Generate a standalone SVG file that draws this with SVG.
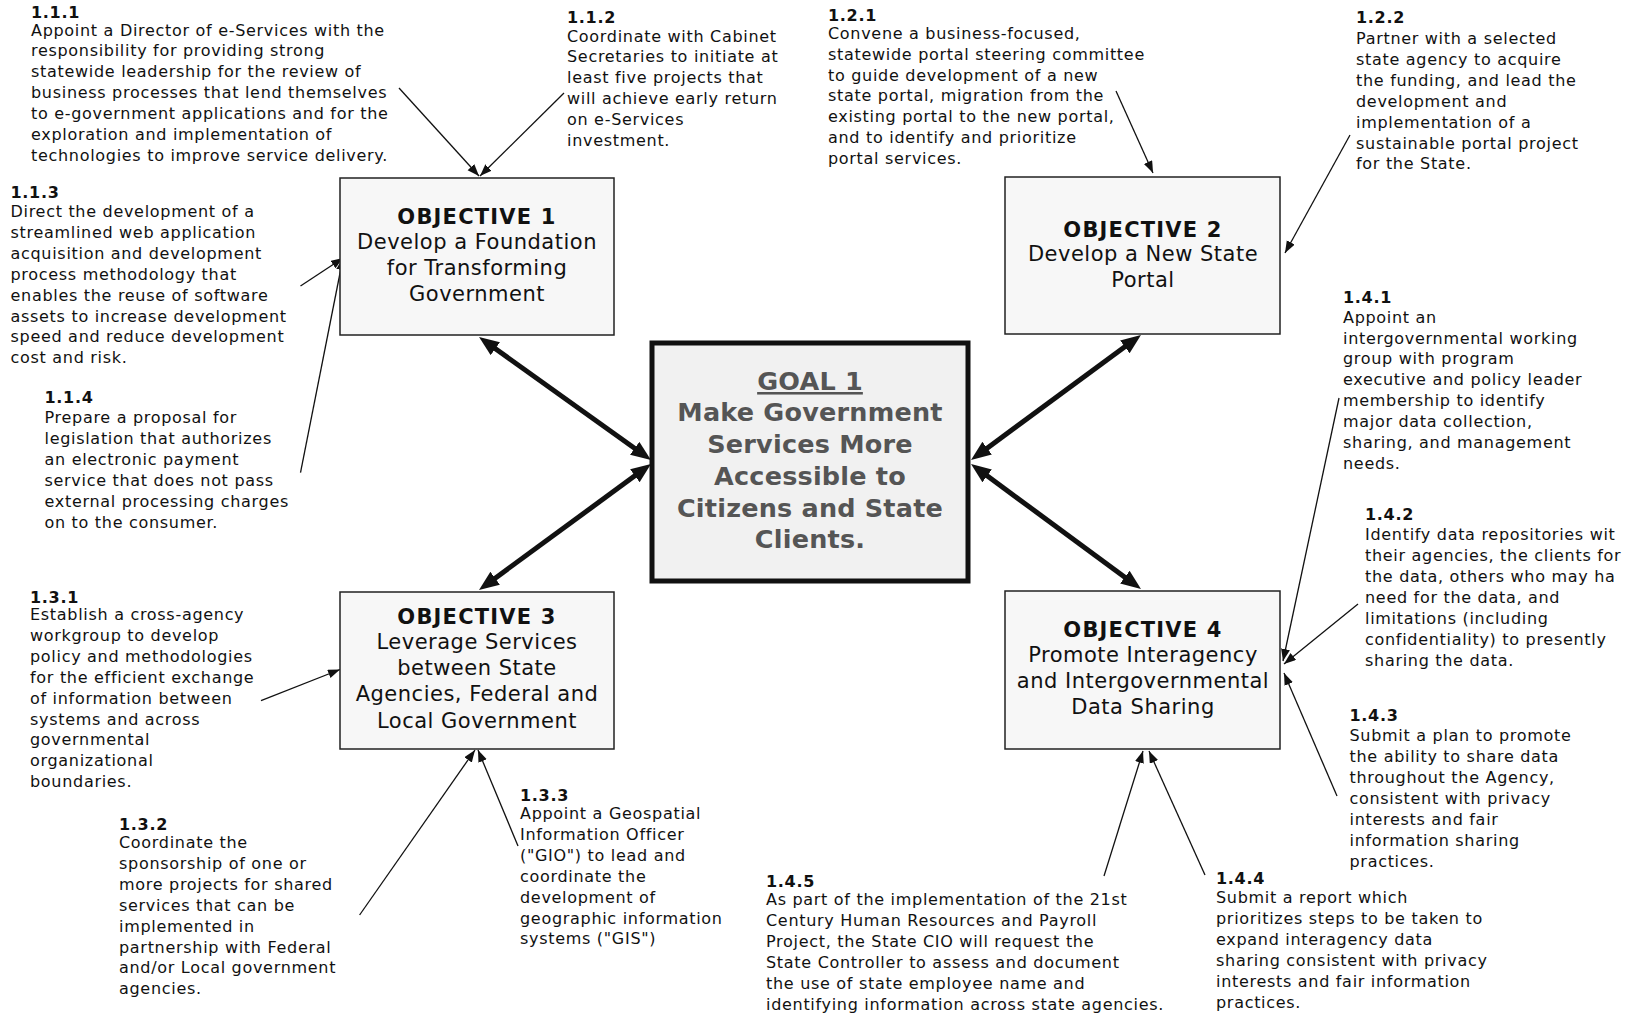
<svg xmlns="http://www.w3.org/2000/svg" width="1625" height="1015" viewBox="0 0 1625 1015">
<style>
.t{font-family:"DejaVu Sans",Verdana,sans-serif;font-size:16px;fill:#111;letter-spacing:0.7px}
.b{font-weight:bold}
.obj{fill:#f7f7f7;stroke:#222;stroke-width:1.5}
.ot{font-family:"DejaVu Sans",Verdana,sans-serif;font-size:21px;fill:#111;text-anchor:middle;letter-spacing:0.5px}
.ob{font-weight:bold;letter-spacing:1.2px}
.gt{font-family:"DejaVu Sans",Verdana,sans-serif;font-size:25.5px;font-weight:bold;fill:#555;text-anchor:middle;letter-spacing:0.2px}
.thin{stroke:#111;stroke-width:1.3;fill:none;marker-end:url(#ah)}
.thick{stroke:#111;stroke-width:5;fill:none;marker-start:url(#AH);marker-end:url(#AH)}
</style>
<defs>
<marker id="ah" markerUnits="userSpaceOnUse" markerWidth="13" markerHeight="10" refX="12" refY="4.5" orient="auto"><path d="M0,0 L12,4.5 L0,9 z" fill="#111"/></marker>
<marker id="AH" markerUnits="userSpaceOnUse" markerWidth="22" markerHeight="18" refX="8" refY="8" orient="auto-start-reverse"><path d="M0,0 L20,8 L0,16 z" fill="#111"/></marker>
</defs>
<rect width="1625" height="1015" fill="#fff"/>

<g id="connectors">
<line class="thick" x1="488.8" y1="344" x2="641.2" y2="453"/>
<line class="thick" x1="488.7" y1="582.9" x2="641.3" y2="471.1"/>
<line class="thick" x1="1131.3" y1="342.1" x2="980.7" y2="452.9"/>
<line class="thick" x1="1131.3" y1="581.9" x2="980.7" y2="471.1"/>
<line class="thin" x1="399" y1="88" x2="479" y2="176"/>
<line class="thin" x1="564" y1="93" x2="480" y2="176"/>
<line class="thin" x1="1116" y1="91" x2="1153" y2="173"/>
<line class="thin" x1="1350" y1="135" x2="1285" y2="253"/>
<line class="thin" x1="300.5" y1="286" x2="343" y2="258"/>
<line class="thin" x1="300.5" y1="472.6" x2="343" y2="258"/>
<line class="thin" x1="1339" y1="398" x2="1283" y2="661"/>
<line class="thin" x1="1358" y1="604" x2="1284" y2="664"/>
<line class="thin" x1="1337" y1="796" x2="1284" y2="673"/>
<line class="thin" x1="261" y1="700.6" x2="340" y2="669.5"/>
<line class="thin" x1="359.6" y1="915" x2="475" y2="750"/>
<line class="thin" x1="518" y1="846" x2="478" y2="750"/>
<line class="thin" x1="1104" y1="876" x2="1143" y2="751"/>
<line class="thin" x1="1205" y1="875" x2="1149" y2="751"/>
</g>

<g id="goal">
<rect x="652" y="343" width="316" height="238" fill="#f1f1f1" stroke="#111" stroke-width="5"/>
<text class="gt" x="810" y="390" text-decoration="underline">GOAL 1</text>
<text class="gt" x="810" y="421">Make Government</text>
<text class="gt" x="810" y="453">Services More</text>
<text class="gt" x="810" y="485">Accessible to</text>
<text class="gt" x="810" y="517">Citizens and State</text>
<text class="gt" x="810" y="548">Clients.</text>
</g>

<g id="obj1">
<rect class="obj" x="340" y="178" width="274" height="157"/>
<text class="ot ob" x="477" y="224">OBJECTIVE 1</text>
<text class="ot" x="477" y="249">Develop a Foundation</text>
<text class="ot" x="477" y="275">for Transforming</text>
<text class="ot" x="477" y="301">Government</text>
</g>
<g id="obj2">
<rect class="obj" x="1005" y="177" width="275" height="157"/>
<text class="ot ob" x="1143" y="237">OBJECTIVE 2</text>
<text class="ot" x="1143" y="261">Develop a New State</text>
<text class="ot" x="1143" y="287">Portal</text>
</g>
<g id="obj3">
<rect class="obj" x="340" y="592" width="274" height="157"/>
<text class="ot ob" x="477" y="624">OBJECTIVE 3</text>
<text class="ot" x="477" y="649">Leverage Services</text>
<text class="ot" x="477" y="675">between State</text>
<text class="ot" x="477" y="701">Agencies, Federal and</text>
<text class="ot" x="477" y="727.5">Local Government</text>
</g>
<g id="obj4">
<rect class="obj" x="1005" y="591" width="275" height="158"/>
<text class="ot ob" x="1143" y="636.5">OBJECTIVE 4</text>
<text class="ot" x="1143" y="661.5">Promote Interagency</text>
<text class="ot" x="1143" y="687.5">and Intergovernmental</text>
<text class="ot" x="1143" y="714">Data Sharing</text>
</g>

<g id="s111">
<text class="t b" x="31" y="18">1.1.1</text>
<text class="t" x="31" y="35.5"><tspan x="31">Appoint a Director of e-Services with the</tspan><tspan x="31" dy="20.9">responsibility for providing strong</tspan><tspan x="31" dy="20.9">statewide leadership for the review of</tspan><tspan x="31" dy="20.9">business processes that lend themselves</tspan><tspan x="31" dy="20.9">to e-government applications and for the</tspan><tspan x="31" dy="20.9">exploration and implementation of</tspan><tspan x="31" dy="20.9">technologies to improve service delivery.</tspan></text>
</g>
<g id="s112">
<text class="t b" x="567" y="23">1.1.2</text>
<text class="t" x="567" y="41.5"><tspan x="567">Coordinate with Cabinet</tspan><tspan x="567" dy="20.9">Secretaries to initiate at</tspan><tspan x="567" dy="20.9">least five projects that</tspan><tspan x="567" dy="20.9">will achieve early return</tspan><tspan x="567" dy="20.9">on e-Services</tspan><tspan x="567" dy="20.9">investment.</tspan></text>
</g>
<g id="s121">
<text class="t b" x="828" y="21">1.2.1</text>
<text class="t" x="828" y="38.7"><tspan x="828">Convene a business-focused,</tspan><tspan x="828" dy="20.9">statewide portal steering committee</tspan><tspan x="828" dy="20.9">to guide development of a new</tspan><tspan x="828" dy="20.9">state portal, migration from the</tspan><tspan x="828" dy="20.9">existing portal to the new portal,</tspan><tspan x="828" dy="20.9">and to identify and prioritize</tspan><tspan x="828" dy="20.9">portal services.</tspan></text>
</g>
<g id="s122">
<text class="t b" x="1356" y="23">1.2.2</text>
<text class="t" x="1356" y="44"><tspan x="1356">Partner with a selected</tspan><tspan x="1356" dy="20.9">state agency to acquire</tspan><tspan x="1356" dy="20.9">the funding, and lead the</tspan><tspan x="1356" dy="20.9">development and</tspan><tspan x="1356" dy="20.9">implementation of a</tspan><tspan x="1356" dy="20.9">sustainable portal project</tspan><tspan x="1356" dy="20.9">for the State.</tspan></text>
</g>
<g id="s113">
<text class="t b" x="10.5" y="198">1.1.3</text>
<text class="t" x="10.5" y="217"><tspan x="10.5">Direct the development of a</tspan><tspan x="10.5" dy="20.9">streamlined web application</tspan><tspan x="10.5" dy="20.9">acquisition and development</tspan><tspan x="10.5" dy="20.9">process methodology that</tspan><tspan x="10.5" dy="20.9">enables the reuse of software</tspan><tspan x="10.5" dy="20.9">assets to increase development</tspan><tspan x="10.5" dy="20.9">speed and reduce development</tspan><tspan x="10.5" dy="20.9">cost and risk.</tspan></text>
</g>
<g id="s114">
<text class="t b" x="44.5" y="402.5">1.1.4</text>
<text class="t" x="44.5" y="423"><tspan x="44.5">Prepare a proposal for</tspan><tspan x="44.5" dy="20.9">legislation that authorizes</tspan><tspan x="44.5" dy="20.9">an electronic payment</tspan><tspan x="44.5" dy="20.9">service that does not pass</tspan><tspan x="44.5" dy="20.9">external processing charges</tspan><tspan x="44.5" dy="20.9">on to the consumer.</tspan></text>
</g>
<g id="s141">
<text class="t b" x="1343" y="303">1.4.1</text>
<text class="t" x="1343" y="322.6"><tspan x="1343">Appoint an</tspan><tspan x="1343" dy="20.9">intergovernmental working</tspan><tspan x="1343" dy="20.9">group with program</tspan><tspan x="1343" dy="20.9">executive and policy leader</tspan><tspan x="1343" dy="20.9">membership to identify</tspan><tspan x="1343" dy="20.9">major data collection,</tspan><tspan x="1343" dy="20.9">sharing, and management</tspan><tspan x="1343" dy="20.9">needs.</tspan></text>
</g>
<g id="s142">
<text class="t b" x="1365" y="519.5">1.4.2</text>
<text class="t" x="1365" y="540.3"><tspan x="1365">Identify data repositories wit</tspan><tspan x="1365" dy="20.9">their agencies, the clients for</tspan><tspan x="1365" dy="20.9">the data, others who may ha</tspan><tspan x="1365" dy="20.9">need for the data, and</tspan><tspan x="1365" dy="20.9">limitations (including</tspan><tspan x="1365" dy="20.9">confidentiality) to presently</tspan><tspan x="1365" dy="20.9">sharing the data.</tspan></text>
</g>
<g id="s143">
<text class="t b" x="1349.5" y="720.6">1.4.3</text>
<text class="t" x="1349.5" y="741.3"><tspan x="1349.5">Submit a plan to promote</tspan><tspan x="1349.5" dy="20.9">the ability to share data</tspan><tspan x="1349.5" dy="20.9">throughout the Agency,</tspan><tspan x="1349.5" dy="20.9">consistent with privacy</tspan><tspan x="1349.5" dy="20.9">interests and fair</tspan><tspan x="1349.5" dy="20.9">information sharing</tspan><tspan x="1349.5" dy="20.9">practices.</tspan></text>
</g>
<g id="s131">
<text class="t b" x="30" y="602.5">1.3.1</text>
<text class="t" x="30" y="620"><tspan x="30">Establish a cross-agency</tspan><tspan x="30" dy="20.9">workgroup to develop</tspan><tspan x="30" dy="20.9">policy and methodologies</tspan><tspan x="30" dy="20.9">for the efficient exchange</tspan><tspan x="30" dy="20.9">of information between</tspan><tspan x="30" dy="20.9">systems and across</tspan><tspan x="30" dy="20.9">governmental</tspan><tspan x="30" dy="20.9">organizational</tspan><tspan x="30" dy="20.9">boundaries.</tspan></text>
</g>
<g id="s132">
<text class="t b" x="119" y="829.5">1.3.2</text>
<text class="t" x="119" y="848"><tspan x="119">Coordinate the</tspan><tspan x="119" dy="20.9">sponsorship of one or</tspan><tspan x="119" dy="20.9">more projects for shared</tspan><tspan x="119" dy="20.9">services that can be</tspan><tspan x="119" dy="20.9">implemented in</tspan><tspan x="119" dy="20.9">partnership with Federal</tspan><tspan x="119" dy="20.9">and/or Local government</tspan><tspan x="119" dy="20.9">agencies.</tspan></text>
</g>
<g id="s133">
<text class="t b" x="520" y="800.5">1.3.3</text>
<text class="t" x="520" y="819"><tspan x="520">Appoint a Geospatial</tspan><tspan x="520" dy="20.9">Information Officer</tspan><tspan x="520" dy="20.9">("GIO") to lead and</tspan><tspan x="520" dy="20.9">coordinate the</tspan><tspan x="520" dy="20.9">development of</tspan><tspan x="520" dy="20.9">geographic information</tspan><tspan x="520" dy="20.9">systems ("GIS")</tspan></text>
</g>
<g id="s145">
<text class="t b" x="766" y="886.5">1.4.5</text>
<text class="t" x="766" y="905"><tspan x="766">As part of the implementation of the 21st</tspan><tspan x="766" dy="20.9">Century Human Resources and Payroll</tspan><tspan x="766" dy="20.9">Project, the State CIO will request the</tspan><tspan x="766" dy="20.9">State Controller to assess and document</tspan><tspan x="766" dy="20.9">the use of state employee name and</tspan><tspan x="766" dy="20.9">identifying information across state agencies.</tspan></text>
</g>
<g id="s144">
<text class="t b" x="1216" y="883.5">1.4.4</text>
<text class="t" x="1216" y="903"><tspan x="1216">Submit a report which</tspan><tspan x="1216" dy="20.9">prioritizes steps to be taken to</tspan><tspan x="1216" dy="20.9">expand interagency data</tspan><tspan x="1216" dy="20.9">sharing consistent with privacy</tspan><tspan x="1216" dy="20.9">interests and fair information</tspan><tspan x="1216" dy="20.9">practices.</tspan></text>
</g>
</svg>
